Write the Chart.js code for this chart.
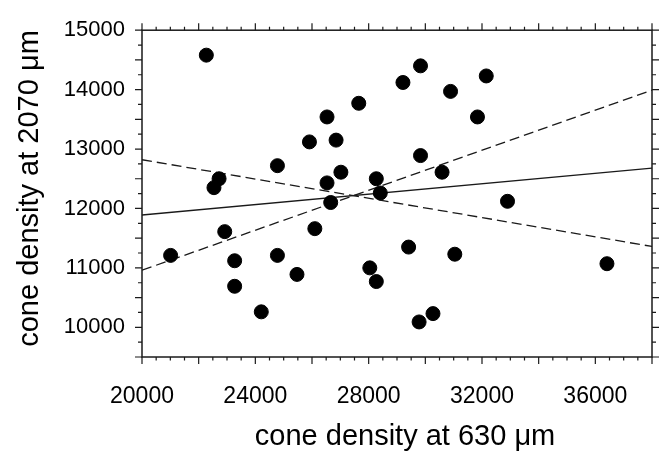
<!DOCTYPE html>
<html>
<head>
<meta charset="utf-8">
<script src="https://cdn.jsdelivr.net/npm/chart.js@4/dist/chart.umd.min.js"></script>
<style>
  html, body { margin: 0; padding: 0; background: #fff; }
  #wrap { width: 664px; height: 454px; }
</style>
</head>
<body>
<div id="wrap"><canvas id="scatter" width="664" height="454"></canvas></div>
<script>
// cone density at 630 um (x) vs at 2070 um (y)
const densityAt630 = [
  22270, 22720, 22540, 24780, 25910, 26530, 26850, 27020, 26530, 27650,
  28270, 28410, 29210, 26660, 29830, 30890, 32150, 31840, 29830, 30590,
  32900, 22920, 21010, 23270, 23270, 24210, 24780, 25470, 26100, 28040,
  28270, 29410, 29780, 30270, 31040, 36410
];
const densityAt2070 = [
  14580, 12500, 12350, 12720, 13120, 13540, 13150, 12610, 12430, 13770,
  12500, 12260, 14120, 12100, 14400, 13970, 14230, 13540, 12890, 12610,
  12120, 11610, 11210, 11120, 10690, 10260, 11210, 10890, 11660, 11000,
  10770, 11350, 10090, 10230, 11230, 11070
];

// regression line and its confidence bounds, end points at the axis limits
const lineX = [20000, 38000];
const fitY = [11890, 12680];
const upperBoundY = [10960, 13990];
const lowerBoundY = [12820, 11360];

const xTicks = [20000, 24000, 28000, 32000, 36000];
const yTicks = [10000, 11000, 12000, 13000, 14000, 15000];

const FONT = "'Liberation Sans', Arial, sans-serif";
const INK = '#1a1a1a';

const toPts = (xs, ys) => xs.map((x, i) => ({ x: x, y: ys[i] }));

// frame + mirrored tick marks on all four sides
const frameTicks = {
  id: 'frameTicks',
  afterDatasetsDraw(chart) {
    const { ctx, chartArea: a, scales: { x, y } } = chart;
    ctx.save();
    ctx.strokeStyle = INK;
    ctx.lineWidth = 1.5;
    ctx.strokeRect(a.left, a.top, a.right - a.left, a.bottom - a.top);
    ctx.lineWidth = 1.2;
    ctx.beginPath();
    for (let v = x.min; v <= x.max; v += 500) {
      const px = x.getPixelForValue(v);
      const len = v % 2000 === 0 ? 7 : 3.5;
      ctx.moveTo(px, a.bottom); ctx.lineTo(px, a.bottom + len);
      ctx.moveTo(px, a.top); ctx.lineTo(px, a.top - len);
    }
    for (let v = y.min; v <= y.max; v += 250) {
      const py = y.getPixelForValue(v);
      const len = v % 500 === 0 ? 7 : 4;
      ctx.moveTo(a.left, py); ctx.lineTo(a.left - len, py);
      ctx.moveTo(a.right, py); ctx.lineTo(a.right + len, py);
    }
    ctx.stroke();
    ctx.restore();
  }
};

new Chart(document.getElementById('scatter'), {
  type: 'scatter',
  data: {
    datasets: [
      {
        label: 'cones',
        data: toPts(densityAt630, densityAt2070),
        backgroundColor: '#000',
        borderColor: '#000',
        pointRadius: 7,
        pointHoverRadius: 7
      },
      {
        type: 'line',
        label: 'fit',
        data: toPts(lineX, fitY),
        borderColor: INK,
        borderWidth: 1.3,
        pointRadius: 0,
        fill: false
      },
      {
        type: 'line',
        label: 'upper',
        data: toPts(lineX, upperBoundY),
        borderColor: INK,
        borderWidth: 1.3,
        borderDash: [10, 5],
        pointRadius: 0,
        fill: false
      },
      {
        type: 'line',
        label: 'lower',
        data: toPts(lineX, lowerBoundY),
        borderColor: INK,
        borderWidth: 1.3,
        borderDash: [10, 5],
        pointRadius: 0,
        fill: false
      }
    ]
  },
  options: {
    responsive: false,
    animation: false,
    layout: { padding: { left: 0, right: 12, top: 18, bottom: 0 } },
    plugins: { legend: { display: false }, tooltip: { enabled: false } },
    scales: {
      x: {
        type: 'linear',
        min: 20000,
        max: 38000,
        afterBuildTicks: s => { s.ticks = xTicks.map(v => ({ value: v })); },
        afterFit: s => { s.height = 97; },
        grid: { display: false, drawTicks: false },
        border: { display: false },
        ticks: {
          color: '#000',
          padding: 26,
          maxRotation: 0,
          font: { family: FONT, size: 23 },
          callback: v => String(v)
        },
        title: {
          display: true,
          // two leading spaces nudge the centred title a little to the right
          text: '  cone density at 630 μm',
          color: '#000',
          padding: { top: 0, bottom: 0 },
          font: { family: FONT, size: 29 }
        }
      },
      y: {
        type: 'linear',
        min: 9500,
        max: 15000,
        afterBuildTicks: s => { s.ticks = yTicks.map(v => ({ value: v })); },
        afterFit: s => { s.width = 142; },
        grid: { display: false, drawTicks: false },
        border: { display: false },
        ticks: {
          color: '#000',
          padding: 17,
          font: { family: FONT, size: 22 },
          callback: v => String(v)
        },
        title: {
          display: true,
          text: 'cone density at 2070 μm',
          align: 'end',
          color: '#000',
          padding: { top: 13, bottom: 0 },
          font: { family: FONT, size: 29 }
        }
      }
    }
  },
  plugins: [frameTicks]
});
</script>
</body>
</html>
